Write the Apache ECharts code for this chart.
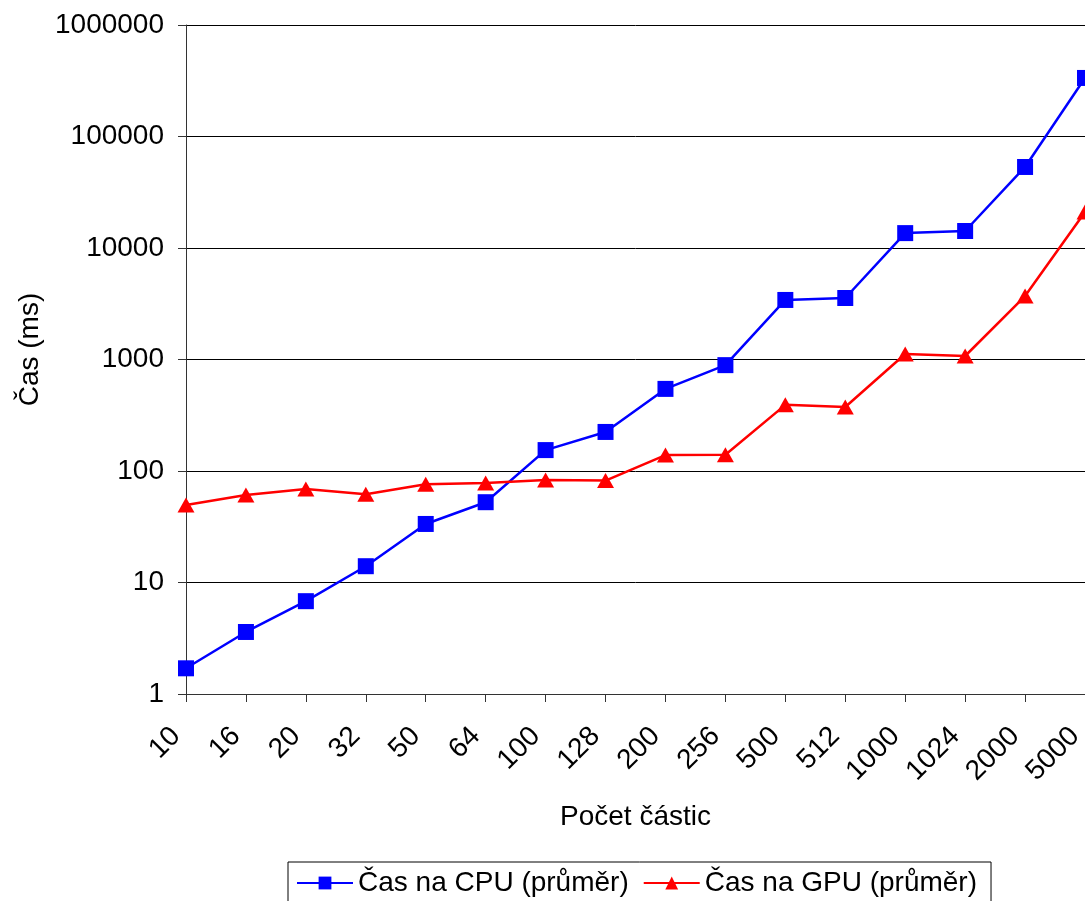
<!DOCTYPE html>
<html>
<head>
<meta charset="utf-8">
<script src="https://cdn.jsdelivr.net/npm/echarts@6/dist/echarts.min.js"></script>
<style>
  html, body { margin: 0; padding: 0; background: #fff; }
  #chart { width: 1085px; height: 901px; }
</style>
</head>
<body>
<div id="chart"></div>
<script>
// počet částic (categories)
var categories = ["10", "16", "20", "32", "50", "64", "100", "128", "200", "256", "500", "512", "1000", "1024", "2000", "5000"];
// průměrné časy v ms
var cpuTimes = [1.7, 3.6, 6.8, 14, 33.5, 52.5, 154, 224, 545, 890, 3420, 3560, 13600, 14200, 53300, 335000];
var gpuTimes = [49.5, 61, 69, 62, 76, 78, 83, 82, 139, 140, 392, 375, 1120, 1075, 3710, 21000];

var font = "Liberation Sans, Arial, sans-serif";

var myChart = echarts.init(document.getElementById("chart"));
var options = {
  backgroundColor: "#fff",
  animation: false,
  textStyle: { fontFamily: font, color: "#000" },
  grid: {
    left: 186,
    right: 0,
    top: 25,
    bottom: 207,
    outerBoundsMode: "none",
  },
  legend: {
    left: 288,
    top: 862,
    padding: [7, 14, 14, 8],
    borderColor: "#000",
    borderWidth: 1,
    itemWidth: 56,
    itemHeight: 16,
    itemGap: 14,
    textStyle: { fontSize: 28, color: "#000", fontFamily: font },
    data: ["Čas na CPU (průměr)", "Čas na GPU (průměr)"],
  },
  xAxis: {
    type: "category",
    data: categories,
    boundaryGap: false,
    name: "Počet částic",
    nameLocation: "middle",
    nameGap: 109,
    nameTextStyle: { fontSize: 28, color: "#000", fontFamily: font },
    axisLine: { lineStyle: { color: "#333", width: 1 } },
    axisTick: { show: true, length: 8, lineStyle: { color: "#333" } },
    axisLabel: {
      rotate: 45,
      margin: 28,
      padding: [0, 14, 0, 0],
      fontSize: 28,
      color: "#000",
      fontFamily: font,
      interval: 0,
    },
    splitLine: { show: false },
  },
  yAxis: {
    type: "log",
    logBase: 10,
    min: 1,
    max: 1000000,
    name: "Čas (ms)",
    nameLocation: "middle",
    nameGap: 133,
    nameTextStyle: { fontSize: 28, color: "#000", fontFamily: font, padding: [0, 0, 0, 20] },
    axisLine: { show: true, lineStyle: { color: "#333", width: 1 } },
    axisTick: { show: true, length: 8, lineStyle: { color: "#333" } },
    axisLabel: {
      margin: 22,
      fontSize: 28,
      color: "#000",
      fontFamily: font,
      formatter: function (value) {
        return String(value);
      },
    },
    splitLine: { show: true, lineStyle: { color: "#000", width: 1 } },
  },
  series: [
    {
      name: "Čas na CPU (průměr)",
      type: "line",
      data: cpuTimes,
      symbol: "rect",
      symbolSize: 16,
      itemStyle: { color: "#0000ff" },
      lineStyle: { color: "#0000ff", width: 2.5 },
    },
    {
      name: "Čas na GPU (průměr)",
      type: "line",
      data: gpuTimes,
      symbol: "triangle",
      symbolSize: [17, 15],
      itemStyle: { color: "#ff0000" },
      lineStyle: { color: "#ff0000", width: 2.5 },
    },
  ],
};
myChart.setOption(options);
</script>
</body>
</html>
